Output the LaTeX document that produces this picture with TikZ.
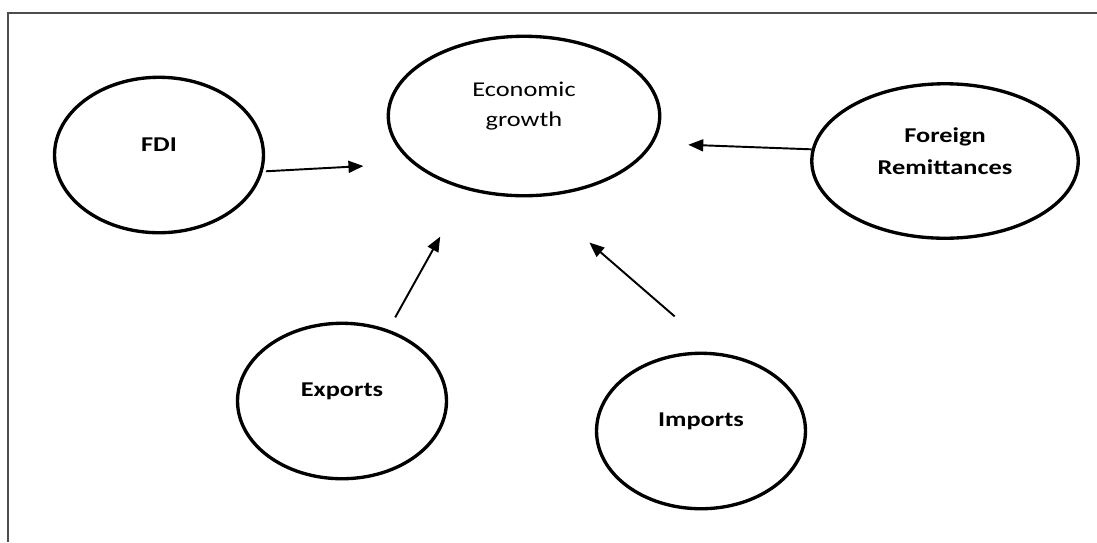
\documentclass[tikz,border=0pt]{standalone}
\usepackage{fontspec}
\setmainfont{Carlito}[FakeStretch=1.25]
\usetikzlibrary{shapes.geometric, arrows.meta}
\definecolor{framegray}{RGB}{77,77,77}
\tikzset{
    oval/.style={ellipse, draw=black, line width=1.9pt, inner sep=0pt, minimum width=4.18cm, minimum height=3.11cm},
    ovaltext/.style={align=center, yshift=0.2cm, font=\fontsize{12}{18}\selectfont\bfseries},
    arrow/.style={line width=1.1pt, -{Triangle[length=8.5pt, width=6.8pt]}},
    border/.style={line width=1pt, framegray}
}

\begin{document}
\begin{tikzpicture}[x=0.02cm, y=-0.02cm]
    \useasboundingbox (0,0) rectangle (1097,542);
    % Frame
    \draw[border] (8,542) -- (8,13) -- (1097,13);

    % Central node
    \node[oval, minimum width=5.43cm, minimum height=3.19cm, label={[ovaltext, font=\fontsize{12}{17}\selectfont]center:Economic\\growth}] (growth) at (524,116) {};

    % Drivers
    \node[oval, label={[ovaltext]center:FDI}] (fdi) at (159,155) {};
    \node[oval, minimum width=5.33cm, minimum height=3.09cm, label={[ovaltext]center:Foreign\\Remittances}] (remit) at (945,161) {};
    \node[oval, label={[ovaltext]center:Exports}] (exports) at (342,401) {};
    \node[oval, label={[ovaltext]center:Imports}] (imports) at (701,431) {};

    % Arrows
    \draw[arrow, shorten <=0.06cm, shorten >=0.98cm] (fdi.-9) -- (growth.203);
    \draw[arrow, shorten >=0.7cm] (remit.175) -- (growth.-12);
    \draw[arrow, shorten <=0.28cm, shorten >=1.07cm] (exports.57) -- (growth.232);
    \draw[arrow, shorten <=1.1cm, shorten >=1.39cm] (imports.79) -- (growth.279);
\end{tikzpicture}
\end{document}
